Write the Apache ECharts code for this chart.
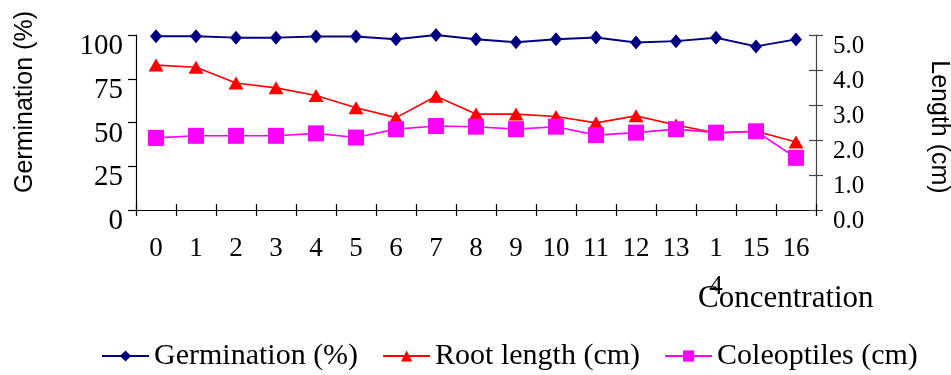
<!DOCTYPE html>
<html>
<head>
<meta charset="utf-8">
<script src="https://cdn.jsdelivr.net/npm/echarts@6/dist/echarts.min.js"></script>
<style>
  html, body { margin: 0; padding: 0; background: #fff; }
  #chart { width: 951px; height: 375px; }
</style>
</head>
<body>
<div id="chart"></div>
<script>
const categories = ['0', '1', '2', '3', '4', '5', '6', '7', '8', '9', '10', '11', '12', '13', '14', '15', '16'];
const germination = [99.3, 99.3, 98.5, 98.5, 99.2, 99.2, 97.6, 100, 97.6, 95.8, 97.6, 98.6, 95.7, 96.5, 98.4, 93.5, 97.5];
const rootLength = [4.14, 4.08, 3.63, 3.49, 3.27, 2.92, 2.64, 3.25, 2.74, 2.74, 2.67, 2.49, 2.69, 2.43, 2.2, 2.25, 1.94];
const coleoptiles = [2.06, 2.12, 2.12, 2.12, 2.19, 2.07, 2.31, 2.4, 2.38, 2.31, 2.38, 2.14, 2.21, 2.31, 2.21, 2.25, 1.49];
const leftTicks = {min: 0, max: 100, interval: 25};
const rightTicks = {min: 0, max: 5, interval: 1};

const SERIF = '"Liberation Serif", "Times New Roman", serif';
const SANS = '"Liberation Sans", Arial, sans-serif';

const chart = echarts.init(document.getElementById('chart'), null, {renderer: 'canvas'});

const lineStyle = {color: '#000', width: 1.2};
const greyLine = {color: '#444', width: 1.2};

chart.setOption({
  animation: false,
  backgroundColor: '#fff',
  grid: {left: 136, right: 135, top: 35, bottom: 165, containLabel: false, outerBoundsMode: 'none'},
  legend: {
    left: 96,
    top: 336,
    itemWidth: 47,
    itemHeight: 14,
    itemGap: 24,
    textStyle: {fontFamily: SERIF, fontSize: 30, color: '#000', padding: [10, 0, 0, 0]},
    data: ['Germination (%)', 'Root length (cm)', 'Coleoptiles (cm)']
  },
  graphic: [{
    type: 'text',
    left: 698,
    top: 283,
    style: {text: 'Concentration', font: '31px ' + SERIF, fill: '#000'}
  }, {
    type: 'text',
    x: 25,
    y: 102,
    rotation: Math.PI / 2,
    style: {text: 'Germination (%)', font: '25px ' + SANS, fill: '#000', align: 'center', verticalAlign: 'middle'}
  }, {
    type: 'text',
    x: 939,
    y: 127,
    rotation: -Math.PI / 2,
    style: {text: 'Length (cm)', font: '25px ' + SANS, fill: '#000', align: 'center', verticalAlign: 'middle'}
  }],
  xAxis: [{
    type: 'category',
    data: categories,
    boundaryGap: true,
    axisLine: {lineStyle: lineStyle},
    axisTick: {show: true, length: 6, interval: 0, lineStyle: lineStyle},
    axisLabel: {
      interval: 0,
      margin: 20,
      fontFamily: SERIF,
      fontSize: 27,
      color: '#000',
      lineHeight: 38,
      formatter: v => v === '14' ? '1\n4' : v
    },
    splitLine: {show: false}
  }, {
    type: 'category',
    data: categories,
    position: 'bottom',
    boundaryGap: true,
    axisLine: {show: false},
    axisTick: {show: true, inside: true, length: 6, interval: 0, lineStyle: lineStyle},
    axisLabel: {show: false}
  }],
  yAxis: [{
    type: 'value',
    min: leftTicks.min,
    max: leftTicks.max,
    interval: leftTicks.interval,
    position: 'left',
    axisLine: {show: true, lineStyle: lineStyle},
    axisTick: {show: true, length: 8, lineStyle: lineStyle},
    axisLabel: {fontFamily: SERIF, fontSize: 29, color: '#000', margin: 13, verticalAlign: 'top', lineHeight: 23},
    splitLine: {show: false}
  }, {
    type: 'value',
    min: rightTicks.min,
    max: rightTicks.max,
    interval: rightTicks.interval,
    position: 'right',
    axisLine: {show: true, lineStyle: greyLine},
    axisTick: {show: true, length: 7, lineStyle: greyLine},
    axisLabel: {fontFamily: SERIF, fontSize: 25, color: '#000', margin: 17, verticalAlign: 'top', lineHeight: 22, formatter: v => v.toFixed(1)},
    splitLine: {show: false}
  }, {
    type: 'value',
    min: rightTicks.min,
    max: rightTicks.max,
    interval: rightTicks.interval,
    position: 'right',
    axisLine: {show: false},
    axisTick: {show: true, inside: true, length: 7, lineStyle: greyLine},
    axisLabel: {show: false},
    splitLine: {show: false}
  }],
  series: [{
    name: 'Germination (%)',
    type: 'line',
    yAxisIndex: 0,
    data: germination,
    symbol: 'diamond',
    symbolSize: [12, 14],
    itemStyle: {color: '#000080'},
    lineStyle: {color: '#000080', width: 2}
  }, {
    name: 'Root length (cm)',
    type: 'line',
    yAxisIndex: 1,
    data: rootLength,
    symbol: 'triangle',
    symbolSize: [15, 13],
    itemStyle: {color: '#ff0000'},
    lineStyle: {color: '#ff0000', width: 1.6}
  }, {
    name: 'Coleoptiles (cm)',
    type: 'line',
    yAxisIndex: 1,
    data: coleoptiles,
    symbol: 'rect',
    symbolSize: 16,
    itemStyle: {color: '#ff00ff'},
    lineStyle: {color: '#ff00ff', width: 1.6}
  }]
});
</script>
</body>
</html>
